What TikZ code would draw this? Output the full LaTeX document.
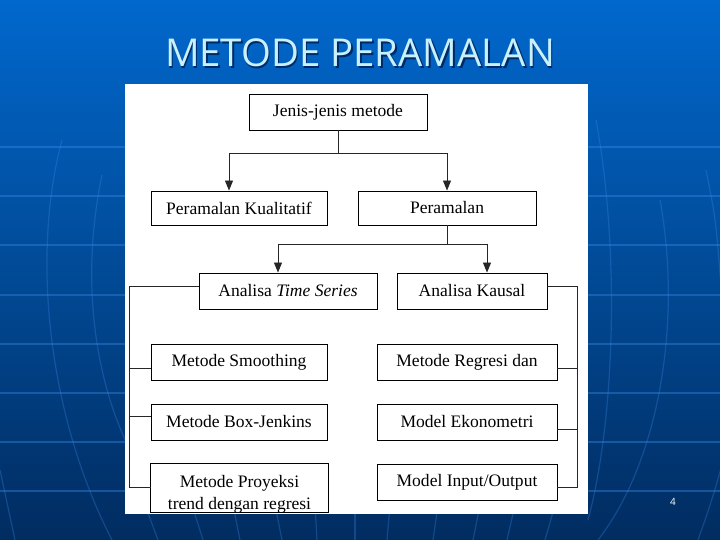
\documentclass[tikz,border=0pt]{standalone}
\usepackage{fontspec}
\setmainfont{Liberation Serif}
\newfontfamily\titlefont{Open Sans}
\usetikzlibrary{arrows.meta,calc}
\definecolor{bgtop}{HTML}{0168CD}
\definecolor{bgmid}{HTML}{034FA6}
\definecolor{bgbot}{HTML}{012C60}
\definecolor{gridcol}{HTML}{3A8AE8}
\definecolor{titlecol}{HTML}{C8F0FF}
\definecolor{shadowcol}{HTML}{002A66}
\begin{document}
\begin{tikzpicture}[x=1bp,y=-1bp,
  box/.style={draw=black,line width=0.9bp,fill=white,minimum height=36bp,inner sep=0pt,
    font=\fontsize{17.6}{20}\selectfont},
  boxtext/.style={inner sep=0pt,font=\fontsize{17.6}{20}\selectfont},
  conn/.style={draw=black!85,line width=0.9bp},
  arr/.style={conn,-{Triangle[width=8bp,length=10bp]}},
  gridline/.style={draw=gridcol,line width=1.4bp,opacity=0.4},
  meridian/.style={draw=gridcol,line width=1.2bp,opacity=0.3},
]
\useasboundingbox (0,0) rectangle (720,540);
% background
\shade[top color=bgtop, middle color=bgmid, bottom color=bgbot] (0,0) rectangle (720,540);
\foreach \yy in {147,196,245,295,344,393,442,491}
  \draw[gridline] (0,\yy) -- (720,\yy);
\draw[meridian] (62,140) .. controls (30,260) and (50,420) .. (112,540);
\draw[meridian] (102,175) .. controls (80,280) and (95,380) .. (130,450);
\draw[meridian] (0,470) -- (15,540);
\draw[meridian] (596,120) .. controls (620,250) and (615,420) .. (588,520);
\draw[meridian] (660,200) .. controls (682,320) and (660,460) .. (598,540);
\draw[meridian] (706,170) .. controls (716,220) .. (722,300);
\draw[meridian] (722,465) .. controls (712,500) .. (698,540);
\foreach \xa/\xb in {145/158,192/203,233/240,275/282,315/317,355/355,390/387,438/433,480/473,515/507,555/545}
  \draw[meridian] (\xa,505) -- (\xb,540);
% title
\node[font=\titlefont\fontsize{38.5}{40}\selectfont, text=shadowcol] (titleshadow) at (361.5,54.5) {METODE PERAMALAN};
\node[font=\titlefont\fontsize{38.5}{40}\selectfont, text=titlecol] (title) at (360,53) {METODE PERAMALAN};
% white panel
\fill[white] (125,84) rectangle (588,514);
% boxes
\node[box, minimum width=178bp] (jenis) at (338,112) {Jenis-jenis metode};
\node[box, minimum width=176bp, minimum height=34bp] (kual) at (239,208) {Peramalan Kualitatif};
\node[box, minimum width=178bp, minimum height=34bp] (peram) at (447,208) {Peramalan};
\node[box, minimum width=178bp] (ats) at (288,291) {Analisa \textit{Time Series}};
\node[box, minimum width=150bp] (ak) at (472,291) {Analisa Kausal};
\node[box, minimum width=176bp] (sm) at (239,362) {Metode Smoothing};
\node[box, minimum width=180bp] (reg) at (467,362) {Metode Regresi dan};
\node[box, minimum width=176bp] (bj) at (239,422) {Metode Box-Jenkins};
\node[box, minimum width=180bp] (eko) at (467,422) {Model Ekonometri};
\node[box, draw=none, minimum width=177bp, minimum height=48bp] (pro) at (239.5,488) {};
\begin{scope}
  \clip (pro.south west) rectangle (pro.north east);
  \node[boxtext, anchor=base] (pro1) at (239.5,487) {Metode Proyeksi};
  \node[boxtext, anchor=base] (pro2) at (239.5,509) {trend dengan regresi};
\end{scope}
\draw[line width=0.9bp] (pro.south west) rectangle (pro.north east);
\node[box, minimum width=180bp] (io) at (467,482) {Model Input/Output};
% top connectors
\coordinate (jb) at (338,153);
\coordinate (ka) at (229,153);
\coordinate (pa) at (447,153);
\draw[conn] (jenis.south) -- (jb);
\draw[conn] (ka) -- (pa);
\draw[arr] (ka) -- (ka |- kual.north);
\draw[arr] (pa) -- (pa |- peram.north);
\coordinate (pb) at (447,244);
\coordinate (ta) at (278,244);
\coordinate (kb) at (487,244);
\draw[conn] (peram.south) -- (pb);
\draw[conn] (ta) -- (kb);
\draw[arr] (ta) -- (ta |- ats.north);
\draw[arr] (kb) -- (kb |- ak.north);
% left bracket
\coordinate (L1) at (129,286);
\coordinate (Ls) at (129,368);
\coordinate (Lb) at (129,416);
\coordinate (L2) at (129,487);
\draw[conn] (ats.west |- L1) -- (L1) -- (L2) -- (pro.west |- L2);
\draw[conn] (Ls) -- (sm.west |- Ls);
\draw[conn] (Lb) -- (bj.west |- Lb);
% right bracket
\coordinate (R1) at (577,286);
\coordinate (Rr) at (577,368);
\coordinate (Re) at (577,429);
\coordinate (R2) at (577,487);
\draw[conn] (ak.east |- R1) -- (R1) -- (R2) -- (io.east |- R2);
\draw[conn] (Rr) -- (reg.east |- Rr);
\draw[conn] (Re) -- (eko.east |- Re);
% page number
\node[font=\titlefont\fontsize{10}{11}\selectfont, text=white] (pg) at (673,502) {4};
\end{tikzpicture}
\end{document}
